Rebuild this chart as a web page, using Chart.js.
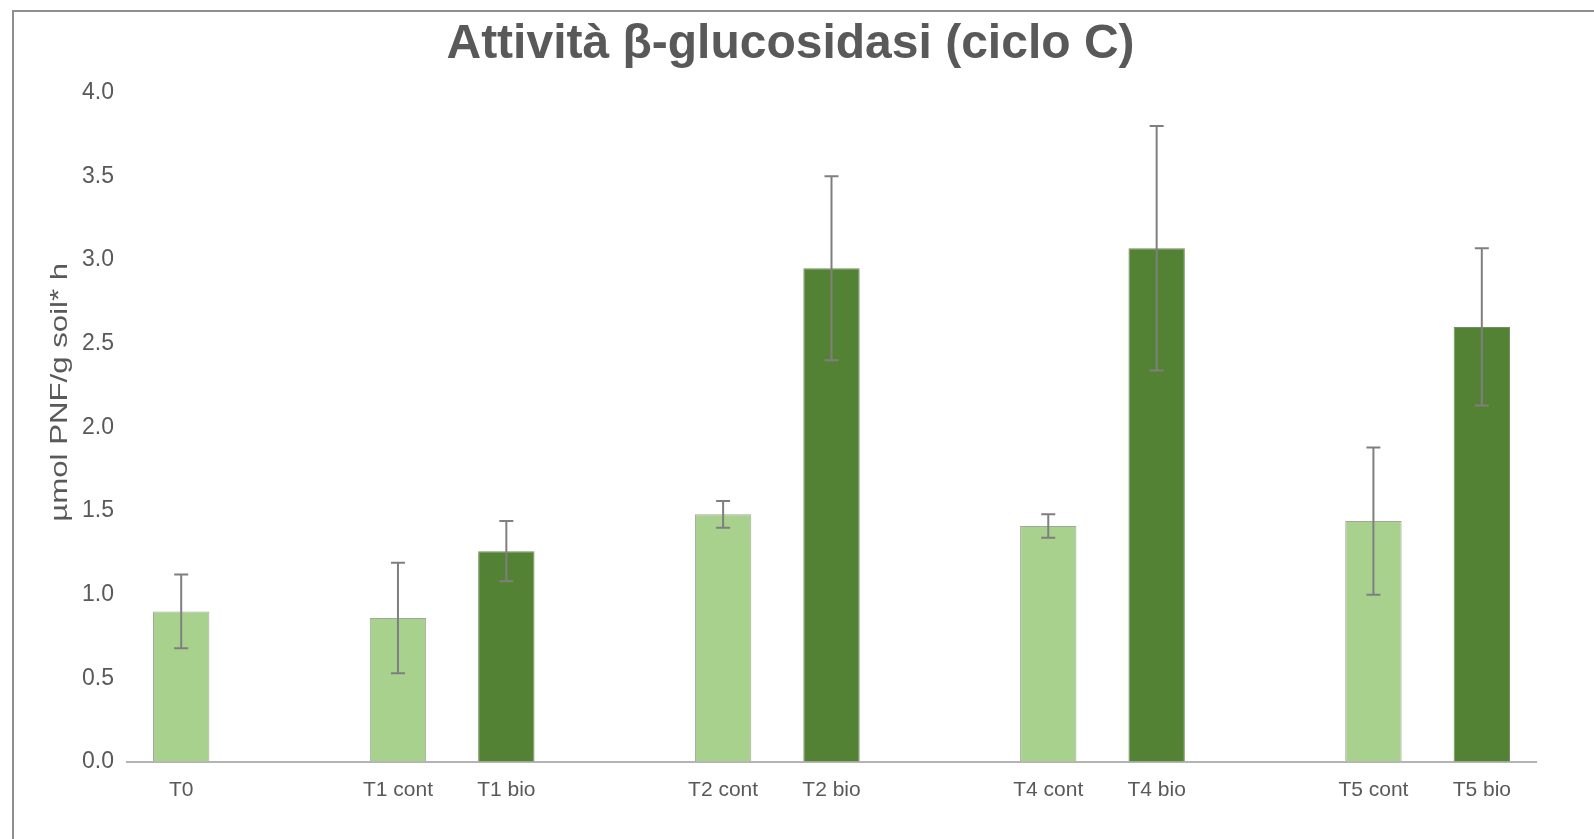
<!DOCTYPE html>
<html>
<head>
<meta charset="utf-8">
<title>Attività β-glucosidasi</title>
<script src="https://cdn.jsdelivr.net/npm/chart.js@4.4.0/dist/chart.umd.min.js"></script>
<style>
body { margin: 0; background: #fff; }
#wrap { position: relative; width: 1594px; height: 839px; overflow: hidden; }
#frame { position: absolute; left: 12px; top: 10px; right: -4px; bottom: -4px; border-top: 2px solid #8f8f8f; border-left: 2px solid #8f8f8f; }
#myChart { position: absolute; left: 0; top: 0; }
</style>
</head>
<body>
<div id="wrap">
    <div id="frame"></div>
    <canvas id="myChart" width="1594" height="839"></canvas>
</div>
<script>
// empty labels are the gaps between the time points
const labels = ["T0", "", "T1 cont", "T1 bio", "", "T2 cont", "T2 bio", "", "T4 cont", "T4 bio", "", "T5 cont", "T5 bio"];
const values = [0.90, null, 0.86, 1.26, null, 1.48, 2.95, null, 1.41, 3.07, null, 1.44, 2.60];
const errors = [0.22, null, 0.33, 0.18, null, 0.08, 0.55, null, 0.07, 0.73, null, 0.44, 0.47];
const yTicks = [0, 0.5, 1.0, 1.5, 2.0, 2.5, 3.0, 3.5, 4.0];
const yTitle = "µmol PNF/g soil* h";

const lightGreen = "#a9d18e";
const darkGreen = "#548235";
const textColor = "#595959";
const font = "'Liberation Sans', Arial, sans-serif";

const barColors = labels.map(l => (l.indexOf("bio") >= 0 ? darkGreen : lightGreen));
const borderColors = labels.map(l => (l.indexOf("bio") >= 0 ? "#6f8f5c" : "#9fa99a"));

// draws the +/- error whiskers on top of each bar
const errorBars = {
    id: "errorBars",
    afterDatasetsDraw(chart) {
        const ctx = chart.ctx;
        const y = chart.scales.y;
        const meta = chart.getDatasetMeta(0);
        ctx.save();
        ctx.strokeStyle = "#7f7f7f";
        ctx.lineWidth = 2;
        meta.data.forEach((bar, i) => {
            if (values[i] === null) return;
            const top = y.getPixelForValue(values[i] + errors[i]);
            const bot = y.getPixelForValue(values[i] - errors[i]);
            ctx.beginPath();
            ctx.moveTo(bar.x, top);
            ctx.lineTo(bar.x, bot);
            ctx.moveTo(bar.x - 7, top);
            ctx.lineTo(bar.x + 7, top);
            ctx.moveTo(bar.x - 7, bot);
            ctx.lineTo(bar.x + 7, bot);
            ctx.stroke();
        });
        ctx.restore();
    },
};

// the axis title in the original is stretched along its length, so draw it by hand
const stretchedYTitle = {
    id: "stretchedYTitle",
    afterDraw(chart) {
        const ctx = chart.ctx;
        const area = chart.chartArea;
        ctx.save();
        ctx.translate(chart.scales.y.left + 15, (area.top + area.bottom) / 2 - 35);
        ctx.rotate(-Math.PI / 2);
        ctx.scale(1.3, 1);
        ctx.font = "24px " + font;
        ctx.fillStyle = textColor;
        ctx.textAlign = "center";
        ctx.textBaseline = "middle";
        ctx.fillText(yTitle, 0, 0);
        ctx.restore();
    },
};

const ctx = document.querySelector("#myChart").getContext("2d");
const myChart = new Chart(ctx, {
    type: "bar",
    data: {
        labels: labels,
        datasets: [
            {
                data: values,
                backgroundColor: barColors,
                borderColor: borderColors,
                borderWidth: 1,
                barPercentage: 0.52,
                categoryPercentage: 1.0,
            },
        ],
    },
    options: {
        responsive: false,
        animation: false,
        layout: { padding: { left: 45, right: 58, top: 0, bottom: 0 } },
        plugins: {
            legend: { display: false },
            tooltip: { enabled: false },
            title: {
                display: true,
                text: "Attività β-glucosidasi (ciclo C)",
                color: textColor,
                font: { family: font, size: 48, weight: "bold" },
                padding: { top: 16, bottom: 19 },
            },
        },
        scales: {
            x: {
                grid: { display: true, drawOnChartArea: false, drawTicks: false, color: "rgba(0,0,0,0)" },
                border: { display: true, color: "#b4b4b4", width: 2 },
                ticks: { color: textColor, font: { family: font, size: 21 }, padding: 16, maxRotation: 0, autoSkip: false },
                afterFit: s => { s.height = 77; },
            },
            y: {
                min: 0,
                max: 4,
                grid: { display: true, drawOnChartArea: false, drawTicks: false, color: "rgba(0,0,0,0)" },
                border: { display: false },
                afterBuildTicks: s => { s.ticks = yTicks.map(v => ({ value: v })); },
                ticks: { color: textColor, font: { family: font, size: 23 }, padding: 13, callback: v => Number(v).toFixed(1) },
                afterFit: s => { s.width = 82; },
            },
        },
    },
    plugins: [errorBars, stretchedYTitle],
});
</script>
</body>
</html>
